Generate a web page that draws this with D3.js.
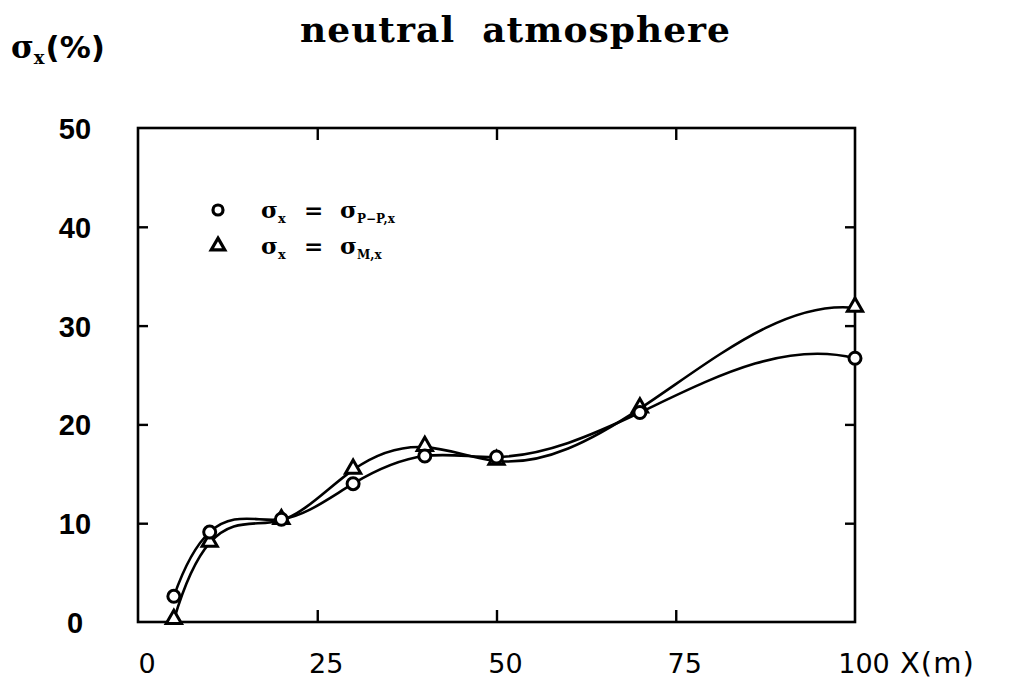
<!DOCTYPE html>
<html>
<head>
<meta charset="utf-8">
<script src="https://cdn.jsdelivr.net/npm/d3@7"></script>
<style>
  html, body { margin: 0; padding: 0; background: #fff; }
  svg { display: block; }
</style>
</head>
<body>
<svg id="chart" width="1009" height="688"></svg>
<script>
// Distance downwind (m)
const distances = [5, 10, 20, 30, 40, 50, 70, 100];
// sigma_x from peak-to-peak values (%)
const sigmaPP = [2.6, 9.1, 10.4, 14.0, 16.8, 16.7, 21.2, 26.7];
// sigma_x from mean values (%)
const sigmaM = [0.2, 8.0, 10.3, 15.4, 17.7, 16.3, 21.6, 31.8];
// Axis ticks
const xTicks = [0, 25, 50, 75, 100];
const yTicks = [0, 10, 20, 30, 40, 50];

const svg = d3.select("#chart");
const plotLeft = 138, plotRight = 855, plotTop = 128, plotBottom = 622;

const x = d3.scaleLinear().domain([0, 100]).range([plotLeft, plotRight]);
const y = d3.scaleLinear().domain([0, 50]).range([plotBottom, plotTop]);

const ink = "#000";

// Cubic spline curve with "not-a-knot" end conditions, as a d3 curve factory.
function NotAKnot(context) { this._context = context; }
NotAKnot.prototype = {
  areaStart() { this._line = 0; },
  areaEnd() { this._line = NaN; },
  lineStart() { this._x = []; this._y = []; },
  point(px, py) { this._x.push(+px); this._y.push(+py); },
  lineEnd() {
    const X = this._x, Y = this._y, n = X.length, ctx = this._context;
    if (!n) return;
    ctx.moveTo(X[0], Y[0]);
    if (n < 4) { for (let i = 1; i < n; i++) ctx.lineTo(X[i], Y[i]); return; }
    const h = [], s = [];
    for (let i = 0; i < n - 1; i++) { h[i] = X[i + 1] - X[i]; s[i] = (Y[i + 1] - Y[i]) / h[i]; }
    const A = Array.from({ length: n }, () => new Array(n).fill(0));
    const b = new Array(n).fill(0);
    A[0][0] = h[1]; A[0][1] = -(h[0] + h[1]); A[0][2] = h[0];
    for (let i = 1; i < n - 1; i++) {
      A[i][i - 1] = h[i - 1];
      A[i][i] = 2 * (h[i - 1] + h[i]);
      A[i][i + 1] = h[i];
      b[i] = 6 * (s[i] - s[i - 1]);
    }
    A[n - 1][n - 3] = h[n - 2]; A[n - 1][n - 2] = -(h[n - 3] + h[n - 2]); A[n - 1][n - 1] = h[n - 3];
    // Gaussian elimination with partial pivoting
    for (let c = 0; c < n; c++) {
      let p = c;
      for (let r = c + 1; r < n; r++) if (Math.abs(A[r][c]) > Math.abs(A[p][c])) p = r;
      [A[c], A[p]] = [A[p], A[c]]; [b[c], b[p]] = [b[p], b[c]];
      for (let r = c + 1; r < n; r++) {
        const f = A[r][c] / A[c][c];
        for (let k = c; k < n; k++) A[r][k] -= f * A[c][k];
        b[r] -= f * b[c];
      }
    }
    const M = new Array(n).fill(0);
    for (let r = n - 1; r >= 0; r--) {
      let acc = b[r];
      for (let k = r + 1; k < n; k++) acc -= A[r][k] * M[k];
      M[r] = acc / A[r][r];
    }
    for (let i = 0; i < n - 1; i++) {
      const m0 = s[i] - h[i] * (2 * M[i] + M[i + 1]) / 6;
      const m1 = s[i] + h[i] * (M[i] + 2 * M[i + 1]) / 6;
      ctx.bezierCurveTo(
        X[i] + h[i] / 3, Y[i] + m0 * h[i] / 3,
        X[i + 1] - h[i] / 3, Y[i + 1] - m1 * h[i] / 3,
        X[i + 1], Y[i + 1]);
    }
  }
};
const curveNotAKnot = context => new NotAKnot(context);

// Title
svg.append("text")
  .attr("x", 515).attr("y", 42)
  .attr("text-anchor", "middle")
  .attr("textLength", 430)
  .attr("lengthAdjust", "spacing")
  .style("font-family", "'DejaVu Serif', serif")
  .style("font-weight", "bold")
  .style("font-size", "36px")
  .style("white-space", "pre")
  .text("neutral  atmosphere");

// Y axis title: sigma_x (%)
const yt = svg.append("text")
  .attr("x", 11).attr("y", 58)
  .style("font-family", "'DejaVu Serif', serif")
  .style("font-weight", "bold")
  .style("font-size", "31px");
yt.append("tspan").text("σ");
yt.append("tspan").attr("dy", 6).style("font-size", "18px").text("x");
yt.append("tspan").attr("dy", -6).attr("dx", 1)
  .style("font-family", "'DejaVu Sans', sans-serif").text("(%)");

// Frame
svg.append("rect")
  .attr("x", plotLeft).attr("y", plotTop)
  .attr("width", plotRight - plotLeft).attr("height", plotBottom - plotTop)
  .attr("fill", "none").attr("stroke", ink).attr("stroke-width", 2.6);

// Inward ticks, drawn with d3 axes on each side
const tickStyle = g => {
  g.select(".domain").remove();
  g.selectAll(".tick line").attr("stroke", ink).attr("stroke-width", 2.4);
  g.selectAll(".tick text").remove();
};
const innerX = xTicks.filter(d => d > 0 && d < 100);
const innerY = yTicks.filter(d => d > 0 && d < 50);
svg.append("g").attr("transform", `translate(0,${plotBottom})`)
  .call(d3.axisTop(x).tickValues(innerX).tickSize(12)).call(tickStyle);
svg.append("g").attr("transform", `translate(0,${plotTop})`)
  .call(d3.axisBottom(x).tickValues(innerX).tickSize(12)).call(tickStyle);
svg.append("g").attr("transform", `translate(${plotLeft},0)`)
  .call(d3.axisRight(y).tickValues(innerY).tickSize(10)).call(tickStyle);
svg.append("g").attr("transform", `translate(${plotRight},0)`)
  .call(d3.axisLeft(y).tickValues(innerY).tickSize(10)).call(tickStyle);

// Tick labels
svg.append("g").selectAll("text").data(xTicks).join("text")
  .attr("x", d => x(d) + 9).attr("y", 673)
  .attr("text-anchor", "middle")
  .style("font-family", "'DejaVu Sans', sans-serif")
  .style("font-size", "27px")
  .text(d => d);
svg.append("g").selectAll("text").data(yTicks).join("text")
  .attr("x", 75).attr("y", d => y(d) + 11)
  .attr("text-anchor", "middle")
  .style("font-family", "'Liberation Sans', Arial, sans-serif")
  .style("font-weight", "bold")
  .style("font-size", "29px")
  .text(d => d);

// X axis title
svg.append("text")
  .attr("x", 900).attr("y", 673)
  .style("font-family", "'DejaVu Sans', sans-serif")
  .style("font-size", "29px")
  .style("letter-spacing", "1px")
  .text("X(m)");

// Curves
const line = d3.line()
  .x((d, i) => x(distances[i]))
  .y(d => y(d))
  .curve(curveNotAKnot);

[sigmaPP, sigmaM].forEach(s => {
  svg.append("path")
    .attr("d", line(s))
    .attr("fill", "none")
    .attr("stroke", ink)
    .attr("stroke-width", 2.6);
});

// Markers
const tri = d3.symbol().type(d3.symbolTriangle).size(100);
svg.append("g").selectAll("path").data(sigmaM).join("path")
  .attr("d", tri)
  .attr("transform", (d, i) => `translate(${x(distances[i])},${y(d) - 1})`)
  .attr("fill", "#fff").attr("stroke", ink).attr("stroke-width", 3);
svg.append("g").selectAll("circle").data(sigmaPP).join("circle")
  .attr("cx", (d, i) => x(distances[i])).attr("cy", d => y(d))
  .attr("r", 6)
  .attr("fill", "#fff").attr("stroke", ink).attr("stroke-width", 3);

// Legend
const legendRows = [
  { sym: "circle", sub: "P−P,x", yy: 212 },
  { sym: "triangle", sub: "M,x", yy: 248 }
];
legendRows.forEach(r => {
  if (r.sym === "circle") {
    svg.append("circle").attr("cx", 218).attr("cy", r.yy - 2).attr("r", 5)
      .attr("fill", "#fff").attr("stroke", ink).attr("stroke-width", 3.2);
  } else {
    svg.append("path").attr("d", d3.symbol().type(d3.symbolTriangle).size(80))
      .attr("transform", `translate(218,${r.yy - 2})`)
      .attr("fill", "#fff").attr("stroke", ink).attr("stroke-width", 3.2);
  }
  const t = svg.append("text")
    .attr("x", 261).attr("y", r.yy + 6)
    .style("font-family", "'DejaVu Serif', serif")
    .style("font-weight", "bold")
    .style("font-size", "23px");
  t.append("tspan").text("σ");
  t.append("tspan").attr("dy", 5).style("font-size", "13px").text("x");
  t.append("tspan").attr("x", 304).attr("dy", -5).text("=");
  t.append("tspan").attr("x", 340).text("σ");
  t.append("tspan").attr("dy", 5).style("font-size", "12px").text(r.sub);
});
</script>
</body>
</html>
